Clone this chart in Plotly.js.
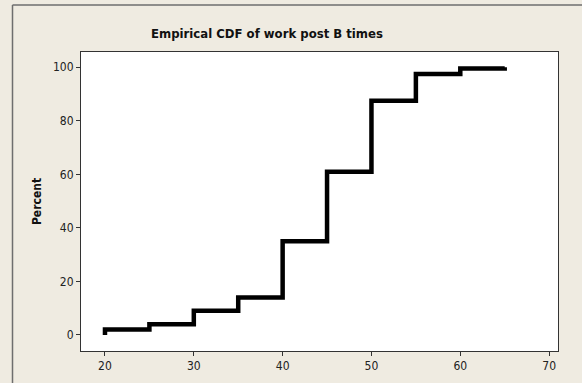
<!DOCTYPE html>
<html>
<head>
<meta charset="utf-8">
<script src="https://cdn.plot.ly/plotly-3.0.1.min.js"></script>
<style>
  html, body { margin: 0; padding: 0; background: #efebe1; }
  #chart { width: 582px; height: 383px; }
</style>
</head>
<body>
<div id="chart"></div>
<script>
// Data
const times = [20, 25, 30, 35, 40, 45, 50, 55, 60, 65];
const cumPercent = [2, 4, 9, 14, 35, 61, 87.5, 97.5, 99.5, 100];
const xTickVals = [20, 30, 40, 50, 60, 70];
const yTickVals = [0, 20, 40, 60, 80, 100];

const xs = [times[0]].concat(times);
const ys = [0].concat(cumPercent);

const font = "'DejaVu Sans Condensed', 'DejaVu Sans', sans-serif";

const trace = {
  type: 'scatter',
  mode: 'lines',
  x: xs,
  y: ys,
  line: { shape: 'hv', color: '#000000', width: 4.5 },
  hoverinfo: 'skip'
};

const W = 582, H = 383;
const mL = 81, mR = 24, mT = 52, mB = 32;
const pw = W - mL - mR, ph = H - mT - mB;
const px = v => (v - mL) / pw;
const py = v => 1 - (v - mT) / ph;

const layout = {
  width: W,
  height: H,
  margin: { l: mL, r: mR, t: mT, b: mB, pad: 0 },
  paper_bgcolor: '#efebe1',
  plot_bgcolor: '#ffffff',
  showlegend: false,
  font: { family: font, size: 12, color: '#222222' },
  title: {
    text: '<b>Empirical CDF of work post B times</b>',
    font: { family: font, size: 13, color: '#111111' },
    xref: 'container', yref: 'container',
    x: 267 / W, xanchor: 'center',
    y: 1 - 33 / H, yanchor: 'middle'
  },
  xaxis: {
    range: [17.3, 71.0],
    tickvals: xTickVals,
    ticktext: xTickVals.map(String),
    ticks: 'outside', ticklen: 4, tickwidth: 1, tickcolor: '#333333',
    showline: true, linecolor: '#333333', linewidth: 1, mirror: true,
    showgrid: false, zeroline: false,
    tickfont: { family: font, size: 12, color: '#222222' }
  },
  yaxis: {
    range: [-6.0, 105.7],
    tickvals: yTickVals,
    ticktext: yTickVals.map(String),
    ticks: 'outside', ticklen: 4, tickwidth: 1, tickcolor: '#333333',
    showline: true, linecolor: '#333333', linewidth: 1, mirror: true,
    showgrid: false, zeroline: false,
    tickfont: { family: font, size: 12, color: '#222222' },
    title: {
      text: '<b>Percent</b>',
      font: { family: font, size: 12, color: '#111111' },
      standoff: 8
    }
  },
  shapes: [
    { type: 'line', xref: 'paper', yref: 'paper',
      x0: px(12.5), x1: px(12.5), y0: py(5), y1: py(400),
      line: { color: '#6e6e6e', width: 1.5 } },
    { type: 'line', xref: 'paper', yref: 'paper',
      x0: px(12.5), x1: px(600), y0: py(5), y1: py(5),
      line: { color: '#6e6e6e', width: 1.5 } }
  ]
};

Plotly.newPlot('chart', [trace], layout, { staticPlot: true, displayModeBar: false });
</script>
</body>
</html>
